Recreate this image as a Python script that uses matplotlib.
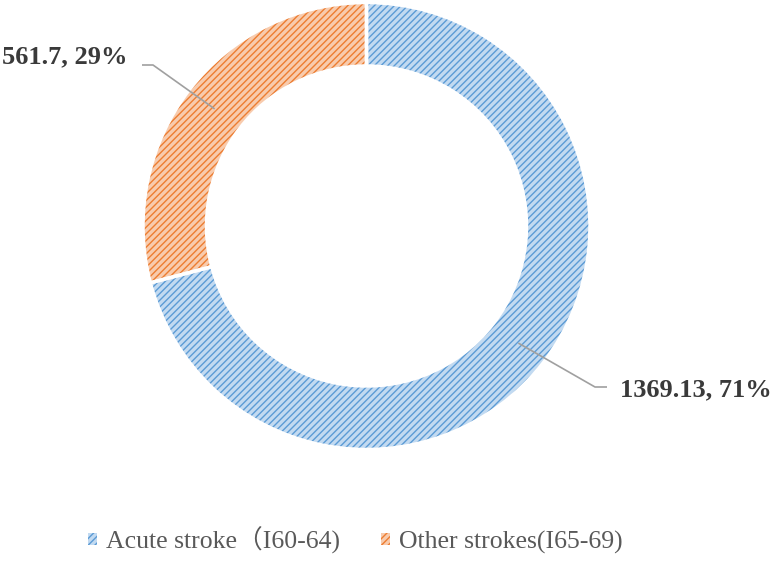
import numpy as np
import matplotlib.pyplot as plt
from matplotlib.patches import Patch

# ── DADOS ─────────────────────────────────────────────────────────────────────
categorias = ['Acute stroke（I60-64)', 'Other strokes(I65-69)']
valores = [1369.13, 561.7]
rotulos = ['1369.13, 71%', '561.7, 29%']

cores_fundo = ['#c2daf1', '#f8cbad']
cores_hachura = ['#5b9bd5', '#ed7d31']

plt.rcParams['font.family'] = ['Liberation Serif', 'Noto Sans CJK SC']
plt.rcParams['hatch.linewidth'] = 1.0

# ── FIGURA (coordenadas em pixels, y para cima) ───────────────────────────────
W, H = 778, 565
fig = plt.figure(figsize=(W / 100, H / 100), dpi=100)
ax = fig.add_axes([0, 0, 1, 1])

centro = (366.5, 339)
raio = 223.5
largura = 63.5

# anel hachurado
cunhas, _ = ax.pie(valores, startangle=90, counterclock=False, center=centro,
                   radius=raio, colors=cores_fundo,
                   wedgeprops=dict(width=largura, linewidth=0), frame=True)
for c, hc in zip(cunhas, cores_hachura):
    c.set_hatch('/////')
    c.set_edgecolor(hc)
    c.set_linewidth(0)

# bordas brancas entre as fatias
ax.pie(valores, startangle=90, counterclock=False, center=centro, radius=raio,
       colors=['none', 'none'], frame=True,
       wedgeprops=dict(width=largura, linewidth=2.5, edgecolor='white', fill=False))
ax.set_xlim(0, W)
ax.set_ylim(0, H)
ax.set_aspect('equal')
ax.axis('off')

# ── RÓTULOS COM LINHA DE CHAMADA ──────────────────────────────────────────────
r_meio = raio - largura / 2
# (cotovelo, fim da linha, posição do texto, alinhamento)
layout = [
    ((595, 178), (607, 178), (620, 175), 'left'),
    ((153, 500), (142, 500), (128, 508), 'right'),
]
for c, rot, (cot, fim, pos, ha) in zip(cunhas, rotulos, layout):
    ang = np.deg2rad((c.theta1 + c.theta2) / 2)
    x0 = centro[0] + r_meio * np.cos(ang)
    y0 = centro[1] + r_meio * np.sin(ang)
    ax.plot([x0, cot[0], fim[0]], [y0, cot[1], fim[1]], color='#a0a0a0', lw=1.2,
            solid_capstyle='butt')
    ax.text(pos[0], pos[1], rot, ha=ha, va='center', fontsize=19,
            fontweight='bold', color='#3a3a3a')

# ── LEGENDA ───────────────────────────────────────────────────────────────────
handles = [Patch(facecolor=f, edgecolor=h, hatch='/////', linewidth=0)
           for f, h in zip(cores_fundo, cores_hachura)]
fig.legend(handles, categorias, loc='center', bbox_to_anchor=(355 / W, 1 - 540 / H),
           ncol=2, frameon=False, fontsize=18.5, handlelength=0.35,
           handleheight=0.35, handletextpad=0.35, columnspacing=1.6,
           labelcolor='#595959')

plt.savefig('out.png', dpi=100)
